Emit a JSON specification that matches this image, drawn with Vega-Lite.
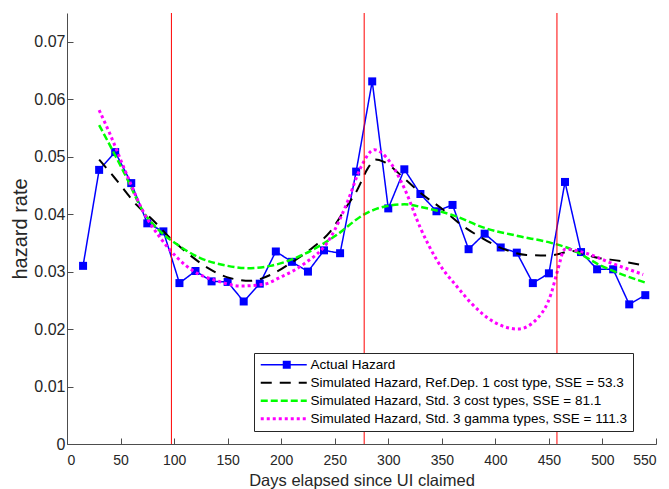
{
  "$schema": "https://vega.github.io/schema/vega-lite/v6.json",
  "width": 589,
  "height": 431,
  "autosize": {"type": "none"},
  "padding": {"left": 67, "top": 13, "right": 13, "bottom": 45},
  "background": "white",
  "config": {
    "view": {"stroke": null},
    "font": "Liberation Sans",
    "axis": {
      "grid": false,
      "domainColor": "#4d4d4d",
      "tickColor": "#4d4d4d",
      "labelColor": "#262626",
      "titleColor": "#262626",
      "titleFontWeight": "normal",
      "labelFont": "Liberation Sans",
      "titleFont": "Liberation Sans",
      "tickSize": -6,
      "domainWidth": 1,
      "tickWidth": 1
    }
  },
  "datasets": {
    "series": [
      {"s": "actual", "day": 15, "h": 0.0310},
      {"s": "actual", "day": 30, "h": 0.0477},
      {"s": "actual", "day": 45, "h": 0.0508},
      {"s": "actual", "day": 60, "h": 0.0454},
      {"s": "actual", "day": 75, "h": 0.0384},
      {"s": "actual", "day": 90, "h": 0.0370},
      {"s": "actual", "day": 105, "h": 0.0280},
      {"s": "actual", "day": 120, "h": 0.0301},
      {"s": "actual", "day": 135, "h": 0.0283},
      {"s": "actual", "day": 150, "h": 0.0282},
      {"s": "actual", "day": 165, "h": 0.0248},
      {"s": "actual", "day": 180, "h": 0.0279},
      {"s": "actual", "day": 195, "h": 0.0335},
      {"s": "actual", "day": 210, "h": 0.0317},
      {"s": "actual", "day": 225, "h": 0.0300},
      {"s": "actual", "day": 240, "h": 0.0337},
      {"s": "actual", "day": 255, "h": 0.0332},
      {"s": "actual", "day": 270, "h": 0.0474},
      {"s": "actual", "day": 285, "h": 0.0631},
      {"s": "actual", "day": 300, "h": 0.0410},
      {"s": "actual", "day": 315, "h": 0.0478},
      {"s": "actual", "day": 330, "h": 0.0435},
      {"s": "actual", "day": 345, "h": 0.0405},
      {"s": "actual", "day": 360, "h": 0.0416},
      {"s": "actual", "day": 375, "h": 0.0339},
      {"s": "actual", "day": 390, "h": 0.0366},
      {"s": "actual", "day": 405, "h": 0.0342},
      {"s": "actual", "day": 420, "h": 0.0333},
      {"s": "actual", "day": 435, "h": 0.0280},
      {"s": "actual", "day": 450, "h": 0.0297},
      {"s": "actual", "day": 465, "h": 0.0456},
      {"s": "actual", "day": 480, "h": 0.0334},
      {"s": "actual", "day": 495, "h": 0.0304},
      {"s": "actual", "day": 510, "h": 0.0304},
      {"s": "actual", "day": 525, "h": 0.0243},
      {"s": "actual", "day": 540, "h": 0.0259},

      {"s": "refdep", "day": 30, "h": 0.0495},
      {"s": "refdep", "day": 45, "h": 0.0462},
      {"s": "refdep", "day": 65, "h": 0.0416},
      {"s": "refdep", "day": 81, "h": 0.0388},
      {"s": "refdep", "day": 96, "h": 0.0359},
      {"s": "refdep", "day": 112, "h": 0.0333},
      {"s": "refdep", "day": 131, "h": 0.0307},
      {"s": "refdep", "day": 150, "h": 0.0290},
      {"s": "refdep", "day": 171, "h": 0.0284},
      {"s": "refdep", "day": 192, "h": 0.0296},
      {"s": "refdep", "day": 209, "h": 0.0315},
      {"s": "refdep", "day": 231, "h": 0.0344},
      {"s": "refdep", "day": 246, "h": 0.0370},
      {"s": "refdep", "day": 260, "h": 0.0410},
      {"s": "refdep", "day": 271, "h": 0.0442},
      {"s": "refdep", "day": 281, "h": 0.0480},
      {"s": "refdep", "day": 288, "h": 0.0495},
      {"s": "refdep", "day": 296, "h": 0.0491},
      {"s": "refdep", "day": 315, "h": 0.0462},
      {"s": "refdep", "day": 332, "h": 0.0434},
      {"s": "refdep", "day": 349, "h": 0.0411},
      {"s": "refdep", "day": 367, "h": 0.0383},
      {"s": "refdep", "day": 387, "h": 0.0359},
      {"s": "refdep", "day": 408, "h": 0.0339},
      {"s": "refdep", "day": 429, "h": 0.0329},
      {"s": "refdep", "day": 449, "h": 0.0328},
      {"s": "refdep", "day": 458, "h": 0.0330},
      {"s": "refdep", "day": 471, "h": 0.0336},
      {"s": "refdep", "day": 493, "h": 0.0325},
      {"s": "refdep", "day": 518, "h": 0.0318},
      {"s": "refdep", "day": 540, "h": 0.0310},

      {"s": "std3cost", "day": 30, "h": 0.0555},
      {"s": "std3cost", "day": 40, "h": 0.0520},
      {"s": "std3cost", "day": 56, "h": 0.0462},
      {"s": "std3cost", "day": 71, "h": 0.0405},
      {"s": "std3cost", "day": 87, "h": 0.0370},
      {"s": "std3cost", "day": 103, "h": 0.0347},
      {"s": "std3cost", "day": 124, "h": 0.0324},
      {"s": "std3cost", "day": 150, "h": 0.0310},
      {"s": "std3cost", "day": 168, "h": 0.0306},
      {"s": "std3cost", "day": 190, "h": 0.0310},
      {"s": "std3cost", "day": 221, "h": 0.0330},
      {"s": "std3cost", "day": 252, "h": 0.0364},
      {"s": "std3cost", "day": 277, "h": 0.0399},
      {"s": "std3cost", "day": 296, "h": 0.0413},
      {"s": "std3cost", "day": 315, "h": 0.0417},
      {"s": "std3cost", "day": 334, "h": 0.0411},
      {"s": "std3cost", "day": 359, "h": 0.0399},
      {"s": "std3cost", "day": 390, "h": 0.0376},
      {"s": "std3cost", "day": 421, "h": 0.0362},
      {"s": "std3cost", "day": 452, "h": 0.0350},
      {"s": "std3cost", "day": 468, "h": 0.0341},
      {"s": "std3cost", "day": 499, "h": 0.0310},
      {"s": "std3cost", "day": 540, "h": 0.0281},

      {"s": "std3gamma", "day": 30, "h": 0.0581},
      {"s": "std3gamma", "day": 40, "h": 0.0540},
      {"s": "std3gamma", "day": 56, "h": 0.0468},
      {"s": "std3gamma", "day": 71, "h": 0.0405},
      {"s": "std3gamma", "day": 87, "h": 0.0359},
      {"s": "std3gamma", "day": 103, "h": 0.0324},
      {"s": "std3gamma", "day": 118, "h": 0.0301},
      {"s": "std3gamma", "day": 140, "h": 0.0284},
      {"s": "std3gamma", "day": 162, "h": 0.0275},
      {"s": "std3gamma", "day": 184, "h": 0.0278},
      {"s": "std3gamma", "day": 199, "h": 0.0290},
      {"s": "std3gamma", "day": 221, "h": 0.0313},
      {"s": "std3gamma", "day": 246, "h": 0.0359},
      {"s": "std3gamma", "day": 262, "h": 0.0422},
      {"s": "std3gamma", "day": 274, "h": 0.0480},
      {"s": "std3gamma", "day": 287, "h": 0.0512},
      {"s": "std3gamma", "day": 299, "h": 0.0497},
      {"s": "std3gamma", "day": 315, "h": 0.0445},
      {"s": "std3gamma", "day": 330, "h": 0.0376},
      {"s": "std3gamma", "day": 346, "h": 0.0318},
      {"s": "std3gamma", "day": 365, "h": 0.0272},
      {"s": "std3gamma", "day": 377, "h": 0.0246},
      {"s": "std3gamma", "day": 399, "h": 0.0212},
      {"s": "std3gamma", "day": 421, "h": 0.0200},
      {"s": "std3gamma", "day": 440, "h": 0.0220},
      {"s": "std3gamma", "day": 452, "h": 0.0261},
      {"s": "std3gamma", "day": 458, "h": 0.0301},
      {"s": "std3gamma", "day": 465, "h": 0.0339},
      {"s": "std3gamma", "day": 483, "h": 0.0333},
      {"s": "std3gamma", "day": 508, "h": 0.0315},
      {"s": "std3gamma", "day": 538, "h": 0.0295}
    ],
    "cuts": [
      {"day": 97.5},
      {"day": 277.5},
      {"day": 457.5}
    ]
  },
  "layer": [
    {
      "data": {"name": "series"},
      "transform": [{"filter": "datum.s === 'actual'"}],
      "mark": {"type": "line", "interpolate": "linear", "strokeCap": "butt"},
      "encoding": {
        "x": {
          "field": "day", "type": "quantitative",
          "scale": {"domain": [0, 550], "nice": false, "zero": false},
          "axis": {
            "title": "Days elapsed since UI claimed",
            "values": [0, 50, 100, 150, 200, 250, 300, 350, 400, 450, 500, 550],
            "labelFontSize": 14, "titleFontSize": 16.5,
            "labelPadding": 15, "titlePadding": 5
          }
        },
        "y": {
          "field": "h", "type": "quantitative",
          "scale": {"domain": [0, 0.075], "nice": false},
          "axis": {
            "title": "hazard rate",
            "values": [0, 0.01, 0.02, 0.03, 0.04, 0.05, 0.06, 0.07],
            "labelExpr": "datum.value === 0 ? '0' : format(datum.value, '.2f')",
            "labelFontSize": 16, "titleFontSize": 20,
            "labelPadding": 8, "titlePadding": 3
          }
        },
        "color": {
          "field": "s", "type": "nominal",
          "scale": {
            "domain": ["actual", "refdep", "std3cost", "std3gamma"],
            "range": ["#0000ff", "#000000", "#00ff00", "#ff00ff"]
          },
          "legend": {
            "orient": "none", "legendX": 187, "legendY": 340,
            "title": null,
            "labelExpr": "datum.value === 'actual' ? 'Actual Hazard' : datum.value === 'refdep' ? 'Simulated Hazard, Ref.Dep. 1 cost type, SSE = 53.3' : datum.value === 'std3cost' ? 'Simulated Hazard, Std. 3 cost types, SSE = 81.1' : 'Simulated Hazard, Std. 3 gamma types, SSE = 111.3'",
            "symbolType": "M-4.6,0H4.6",
            "symbolSize": 100,
            "symbolOffset": 18,
            "labelOffset": 20,
            "labelFontSize": 13.5,
            "labelColor": "#000000",
            "labelLimit": 500,
            "padding": 5,
            "rowPadding": 3,
            "strokeColor": "#262626",
            "fillColor": "#ffffff",
            "zindex": 1
          }
        },
        "strokeDash": {
          "field": "s", "type": "nominal",
          "scale": {
            "domain": ["actual", "refdep", "std3cost", "std3gamma"],
            "range": [[1, 0], [11, 8], [7, 3], [3, 3]]
          },
          "legend": null
        },
        "strokeWidth": {
          "field": "s", "type": "nominal",
          "scale": {
            "domain": ["actual", "refdep", "std3cost", "std3gamma"],
            "range": [1.5, 3, 3.5, 3.5]
          },
          "legend": null
        }
      }
    },
    {
      "data": {"name": "series"},
      "transform": [{"filter": "datum.s === 'actual'"}],
      "mark": {"type": "point", "size": 64, "filled": true, "color": "#0000ff", "opacity": 1},
      "encoding": {
        "x": {"field": "day", "type": "quantitative"},
        "y": {"field": "h", "type": "quantitative"},
        "shape": {
          "field": "s", "type": "nominal",
          "scale": {"domain": ["actual"], "range": ["square"]},
          "legend": {
            "orient": "none", "legendX": 187, "legendY": 340,
            "title": null,
            "labelExpr": "''",
            "symbolSize": 64,
            "symbolOffset": 21,
            "symbolFillColor": "#0000ff",
            "symbolStrokeWidth": 0,
            "labelOffset": 20,
            "labelFontSize": 13.5,
            "padding": 5,
            "zindex": 2
          }
        }
      }
    },
    {
      "data": {"name": "series"},
      "transform": [{"filter": "datum.s !== 'actual'"}],
      "mark": {"type": "line", "interpolate": "monotone", "strokeCap": "butt"},
      "encoding": {
        "x": {"field": "day", "type": "quantitative"},
        "y": {"field": "h", "type": "quantitative"},
        "color": {"field": "s", "type": "nominal", "legend": null},
        "strokeDash": {"field": "s", "type": "nominal", "legend": null},
        "strokeWidth": {"field": "s", "type": "nominal", "legend": null}
      }
    },
    {
      "data": {"name": "cuts"},
      "mark": {"type": "rule", "color": "#ff0000", "strokeWidth": 1},
      "encoding": {
        "x": {"field": "day", "type": "quantitative"}
      }
    }
  ]
}
